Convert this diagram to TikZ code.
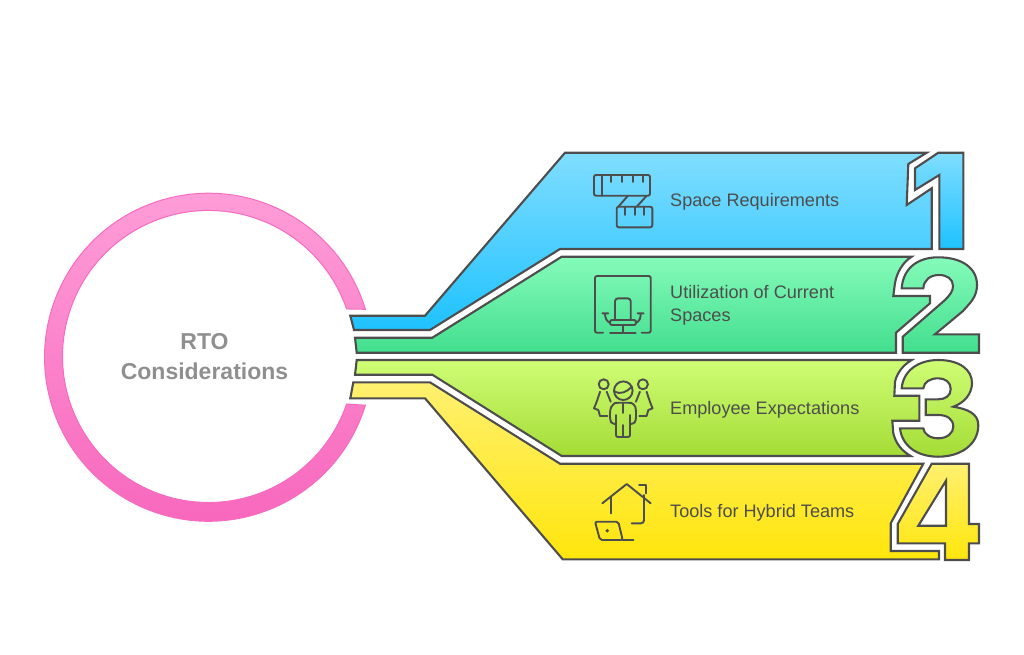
\documentclass[tikz,border=0pt]{standalone}
\usepackage{fontspec}
\setmainfont{Liberation Sans}
\definecolor{inkgray}{HTML}{4D4D4D}
\definecolor{titlegray}{HTML}{8F8F8F}
\definecolor{pinktop}{HTML}{FFA0D9}
\definecolor{pinkbot}{HTML}{F765BC}
\definecolor{pinkline}{HTML}{F76CC0}
\definecolor{bluetop}{HTML}{80DDFF}
\definecolor{bluebot}{HTML}{1EC2FF}
\definecolor{greentop}{HTML}{85FBBA}
\definecolor{greenbot}{HTML}{42DE8E}
\definecolor{limetop}{HTML}{CFFD75}
\definecolor{limebot}{HTML}{A4DC36}
\definecolor{yellowtop}{HTML}{FFF070}
\definecolor{yellowbot}{HTML}{FFE60C}
\tikzset{
  bar/.style={draw=inkgray, line width=2.1pt, even odd rule},
  bluebar/.style={bar, top color=bluetop, bottom color=bluebot},
  greenbar/.style={bar, top color=greentop, bottom color=greenbot},
  limebar/.style={bar, top color=limetop, bottom color=limebot},
  yellowbar/.style={bar, top color=yellowtop, bottom color=yellowbot},
  glyph/.style={draw=inkgray, line width=1.9pt, line cap=round, line join=round},
  steplabel/.style={anchor=west, align=left, text=inkgray, font=\fontsize{18.1}{23}\selectfont, inner sep=0pt},
  titlelabel/.style={align=center, text=titlegray, font=\fontsize{23}{30}\selectfont\bfseries, inner sep=0pt}
}
\begin{document}
\begin{tikzpicture}[x=1pt,y=-1pt]
    \useasboundingbox (0,0) rectangle (1024,654);
    % Ring
    \path[draw=pinkline, line width=1pt, top color=pinktop, bottom color=pinkbot]
        (365.4,309.3) arc (-17:-343:164) -- (346.6,404) arc (19:341:146) -- cycle;
    \node[titlelabel] (rtotitle) at (204.5,356.5) {RTO\\Considerations};
    % Bars
    \path[bluebar] (350.3,315.7) -- (425,315.7) -- (565,152.7) -- (926.7,152.7) -- (908.3,164) -- (906.7,205)
        -- (931.7,188.3) -- (931.7,249) -- (560,249) -- (430,330) -- (354,330) -- cycle;
    \path[greenbar] (355,337.7) -- (432.3,337.7) -- (561.7,256.7) -- (911.7,256.7)
        .. controls (903,262) and (897,272) .. (895,283) -- (893.3,296) -- (930,296) -- (930,303.3)
        -- (896,332.7) -- (896,352.7) -- (356.7,352.7) -- cycle;
    \path[limebar] (356.7,360) -- (911.7,360) .. controls (903,365) and (897,373) .. (895,381.7)
        -- (894.3,395.7) -- (919.3,395.7) -- (919.3,420.7) -- (892.3,420.7) -- (893.3,433.3)
        .. controls (896,444) and (902,451) .. (910.7,456) -- (561.7,456) -- (432.3,374.7) -- (355,374.7) -- cycle;
    \path[yellowbar] (353.3,382.3) -- (430,382.3) -- (560,463.7) -- (923.3,463.7) -- (890.7,523.3) -- (890.7,551)
        -- (939,551) -- (939,559.3) -- (562.7,559.3) -- (425,398.3) -- (350.3,398.3) -- cycle;
    % Numbers
    \path[bluebar] (938.3,152.7) -- (963.3,152.7) -- (963.3,249) -- (939.3,249) -- (939.3,175) -- (915,190)
        -- (915,168.3) -- cycle;
    \path[greenbar] (901.7,288.3) .. controls (903,268) and (918,257.3) .. (938,257.3)
        .. controls (962,257.3) and (977,268) .. (977,285) .. controls (977,297) and (970,303) .. (963,311)
        -- (935,334.3) -- (979,334.3) -- (979,352.7) -- (902.7,352.7) -- (902.7,336.7) -- (945,300)
        .. controls (950,295) and (953,291) .. (953,286) .. controls (953,279) and (947,275) .. (939,275)
        .. controls (930,275) and (924,280) .. (923.3,288.3) -- cycle;
    \path[limebar] (901.7,388.3) .. controls (903,371) and (918,360) .. (938.3,360)
        .. controls (960,360) and (972,370) .. (972,383) .. controls (972,394) and (964,403) .. (953.3,406.7)
        .. controls (968,409) and (978.3,414) .. (978.3,425) .. controls (978.3,445) and (960,456.7) .. (938.3,456.7)
        .. controls (917,456.7) and (902,446) .. (900,428.3) -- (923.3,428.3)
        .. controls (924,434) and (930,438.3) .. (938.3,438.3) .. controls (947,438.3) and (953.3,433) .. (953.3,426.7)
        .. controls (953.3,419) and (947,415) .. (938.3,415) -- (925.7,415) -- (925.7,399.3) -- (938.3,399.3)
        .. controls (945,399.3) and (950.7,396) .. (950.7,389) .. controls (950.7,382) and (945,378.3) .. (938.3,378.3)
        .. controls (930,378.3) and (924,382) .. (923.3,388.3) -- cycle;
    \path[yellowbar] (931.7,463.7) -- (969,463.7) -- (969,524) -- (979,524) -- (979,543.3) -- (969,543.3)
        -- (969,560) -- (945,560) -- (945,543.3) -- (897.7,543.3) -- (897.7,524) -- cycle
        (946,480.7) -- (946,525.7) -- (918.3,525.7) -- cycle;
    % Tape icon
    \draw[glyph, rounded corners=2pt] (594,175) rectangle (650,195.7);
    \draw[glyph] (601.7,175) -- (601.7,195.7);
    \foreach \tx in {611,621.7,632.7,643.3}
        \draw[glyph] (\tx,175) -- (\tx,182);
    \draw[glyph] (628,195.7) -- (618.3,206.7);
    \draw[glyph] (646.7,195.7) -- (636.7,206.7);
    \draw[glyph, rounded corners=2pt] (616.7,206.7) rectangle (652.3,227.3);
    \foreach \tx in {625,635,644.3}
        \draw[glyph] (\tx,206.7) -- (\tx,215);
    % Chair icon
    \draw[glyph, rounded corners=2pt] (603,332.7) -- (595,332.7) -- (595,276) -- (650.7,276) -- (650.7,332.7) -- (641.7,332.7);
    \draw[glyph, rounded corners=3pt] (615,320) -- (615,298.3) -- (630.7,298.3) -- (630.7,320);
    \draw[glyph, rounded corners=2pt] (610,320) rectangle (636,325);
    \draw[glyph] (602.3,313.3) -- (608.3,313.3) (605,313.3) .. controls (605,318) and (606.5,321.5) .. (610,322.7);
    \draw[glyph] (637.5,313.3) -- (643.5,313.3) (640.7,313.3) .. controls (640.7,318) and (639.5,321.5) .. (636,322.7);
    \draw[glyph] (622.7,325) -- (622.7,332.7) (610,332.7) -- (635.7,332.7);
    % People icon
    \draw[glyph] (623.3,390.7) circle (9.3);
    \draw[glyph] (614.3,391.5) .. controls (620,395) and (627,392) .. (632,386.5);
    \draw[glyph, rounded corners=3pt] (616,424) -- (612,424) -- (610,420) -- (610,410) .. controls (612,405) and (615,403) .. (618,402.7)
        -- (628.3,402.7) .. controls (632,403) and (635,405) .. (636,410) -- (636,420) -- (634,424) -- (630,424);
    \draw[glyph] (623.3,402.7) -- (623.3,413) (623.3,425) -- (623.3,436);
    \draw[glyph, rounded corners=2pt] (616,415) -- (616,437) -- (630,437) -- (630,415);
    \draw[glyph] (603.7,384.3) circle (5);
    \draw[glyph] (600,391.7) .. controls (598,398) and (596,404) .. (594,408.3) -- (598.3,410) -- (600,416) -- (607.3,416);
    \draw[glyph] (606.7,391.7) -- (610.7,401.7);
    \draw[glyph] (642.9,384.3) circle (5);
    \draw[glyph] (646.6,391.7) .. controls (648.6,398) and (650.6,404) .. (652.6,408.3) -- (648.3,410) -- (646.6,416) -- (639.3,416);
    \draw[glyph] (639.9,391.7) -- (635.9,401.7);
    % House icon
    \draw[glyph] (602.3,503.3) -- (626.7,484) -- (650.7,503.3);
    \draw[glyph] (611,496.7) -- (611,513.3);
    \draw[glyph, rounded corners=3pt] (644,495) -- (644,523.3) -- (631.7,523.3);
    \draw[glyph] (639,485) -- (646,485) -- (646,493.3);
    \draw[glyph, rounded corners=2pt] (595,521.7) -- (618.3,521.7) -- (622.7,540) -- (600,540) -- cycle;
    \draw[glyph] (622.7,540) -- (633.3,540);
    \fill[inkgray] (607.3,530.7) circle (1.9);
    % Labels
    \node[steplabel] (spacelabel) at (670,202) {Space Requirements};
    \node[steplabel] (utillabel) at (670,305.5) {Utilization of Current\\Spaces};
    \node[steplabel] (emplabel) at (670,409.5) {Employee Expectations};
    \node[steplabel] (toolslabel) at (670,513) {Tools for Hybrid Teams};
\end{tikzpicture}
\end{document}
